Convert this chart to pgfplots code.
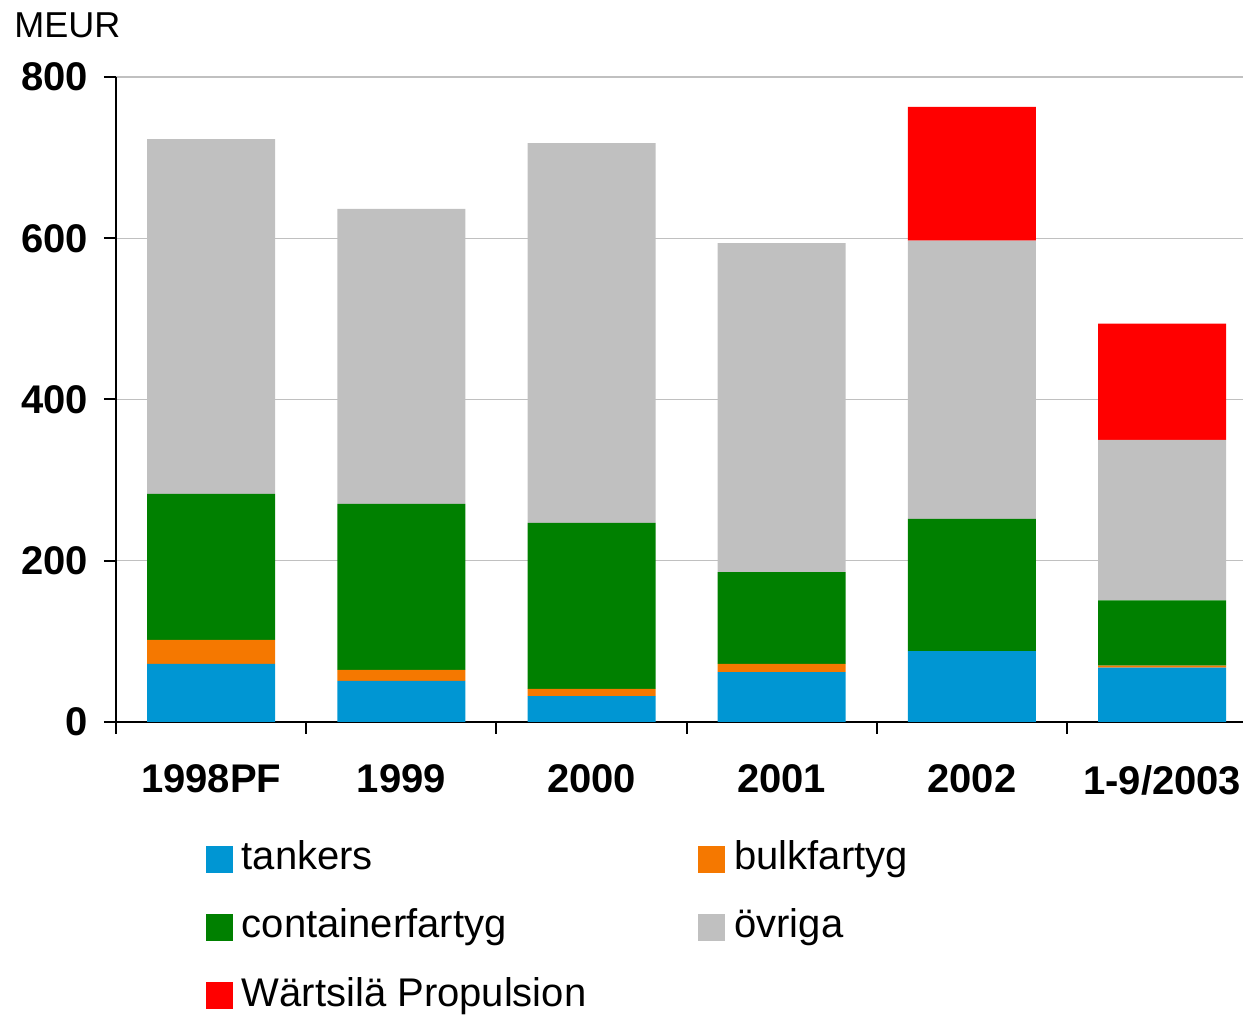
\documentclass[border=0pt]{standalone}
\usepackage{fontspec}
\setmainfont{Liberation Sans}
\usepackage{pgfplots}
\pgfplotsset{compat=1.18}
\definecolor{ctank}{RGB}{0,150,211}
\definecolor{cbulk}{RGB}{245,120,0}
\definecolor{ccont}{RGB}{0,128,0}
\definecolor{covr}{RGB}{192,192,192}
\definecolor{cwart}{RGB}{255,0,0}
\begin{document}
\begin{tikzpicture}
\useasboundingbox (-58pt,-147pt) rectangle (563.5pt,361pt);
\begin{axis}[
  at={(0,0)}, anchor=south west,
  width=563.5pt, height=322.5pt, scale only axis,
  ybar stacked, bar width=0.673,
  xmin=-0.5, xmax=5.425, ymin=0, ymax=800,
  xtick={0,1,2,3,4,5},
  xticklabels={1998PF,1999,2000,2001,2002,1-9/2003},
  minor xtick={-0.5,0.5,1.5,2.5,3.5,4.5},
  ytick={0,200,400,600,800},
  axis x line*=bottom, axis y line*=left,
  axis line style={black, line width=1pt},
  tick align=outside,
  major x tick style={draw=none},
  minor x tick style={black, line width=1pt},
  minor tick length=6pt,
  major tick length=6pt,
  y tick style={black, line width=1pt},
  ymajorgrids, grid style={color=covr, line width=0.6pt},
  /pgf/number format/assume math mode=true,
  ticklabel style={font=\fontsize{20}{24}\selectfont\bfseries},
  xticklabel style={yshift=-12pt},
  yticklabel style={xshift=-4.5pt},
  legend columns=2,
  legend cell align=left,
  legend style={draw=none, fill=none, at={(rel axis cs:0.074,-0.177)}, anchor=north west,
    font=\fontsize{20}{24}\selectfont,
    nodes={inner xsep=4.5pt, inner ysep=0pt, text height=14.5pt, text depth=4pt, anchor=west},
    row sep=15.7pt,
    /tikz/column 2/.style={column sep=51.5pt}},
  legend image code/.code={\fill[#1] (0pt,-6.75pt) rectangle (13.5pt,6.75pt);},
  clip=false,
]
\addplot[fill=ctank, draw=none] coordinates {(0,72) (1,51) (2,32) (3,62) (4,88) (5,67.4)};
\addplot[fill=cbulk, draw=none] coordinates {(0,30) (1,13.5) (2,9) (3,10) (4,0) (5,2.6)};
\addplot[fill=ccont, draw=none] coordinates {(0,181) (1,206) (2,206) (3,114) (4,164) (5,81)};
\addplot[fill=covr, draw=none] coordinates {(0,440) (1,366) (2,471) (3,408) (4,345) (5,199)};
\addplot[fill=cwart, draw=none] coordinates {(0,0) (1,0) (2,0) (3,0) (4,166) (5,144)};
\legend{tankers, bulkfartyg, containerfartyg, övriga, Wärtsilä Propulsion}
\node[anchor=west, font=\fontsize{18}{21}\selectfont, inner sep=0pt] at (rel axis cs:0,1) [xshift=-51pt, yshift=26pt] {MEUR};
\end{axis}
\end{tikzpicture}
\end{document}
